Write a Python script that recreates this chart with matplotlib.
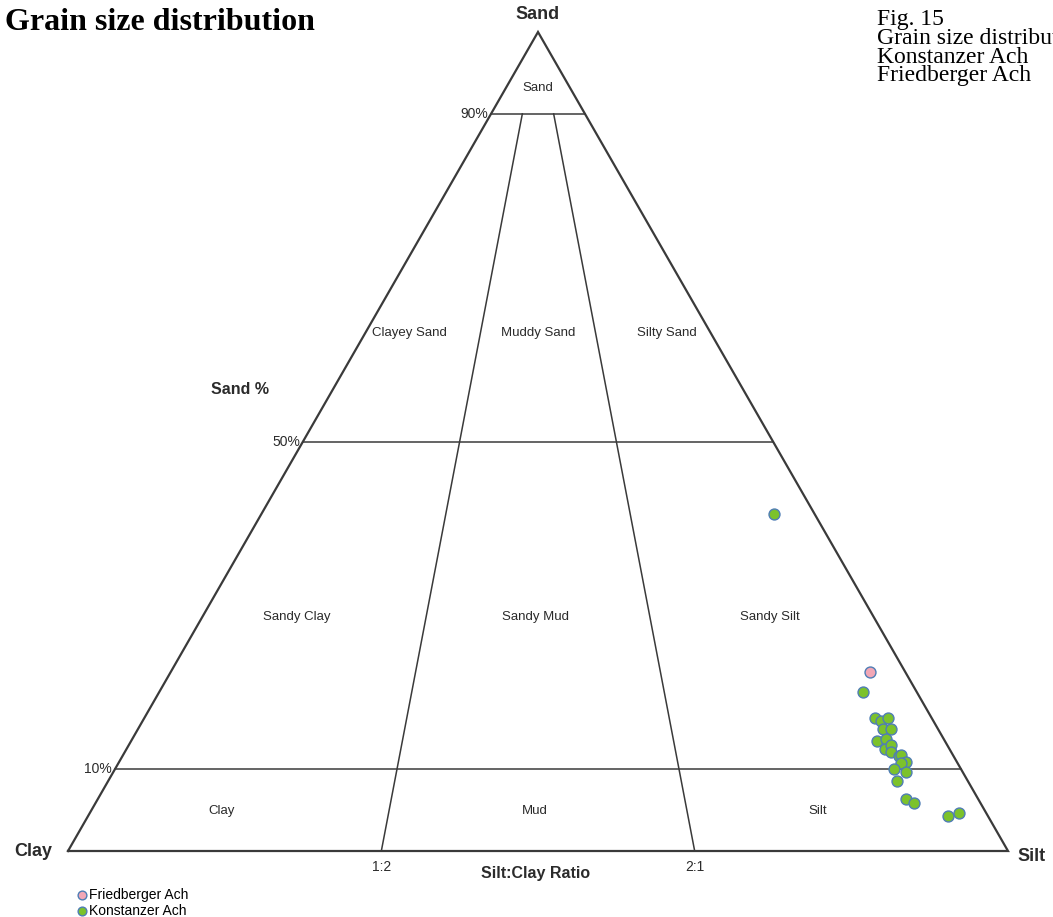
import matplotlib.pyplot as plt

# grain size fractions (%)
konstanzer_sand = [41.2, 19.4, 16.2, 15.9, 16.3, 14.9, 14.9, 13.4, 13.7, 12.5, 13.0, 12.1,
                   11.6, 11.7, 10.9, 10.8, 10.0, 9.7, 8.6, 6.3, 5.9, 4.3, 4.6]
konstanzer_silt = [54.5, 74.9, 77.7, 78.5, 79.1, 79.2, 80.1, 79.4, 80.2, 80.7, 81.1, 81.5,
                   82.6, 82.8, 83.7, 83.3, 82.9, 84.3, 83.9, 86.0, 87.1, 91.5, 92.5]
konstanzer_clay = [4.3, 5.7, 6.1, 5.6, 4.6, 5.9, 5.0, 7.2, 6.1, 6.8, 5.9, 6.4,
                   5.8, 5.5, 5.4, 6.0, 7.1, 6.0, 7.5, 7.7, 7.0, 4.2, 2.9]
friedberger_sand = [21.9]
friedberger_silt = [74.5]
friedberger_clay = [3.7]

# Folk classification boundaries
sand_levels = [0.1, 0.5, 0.9]
sand_level_labels = ["10%", "50%", "90%"]
ratio_splits = [1 / 3, 2 / 3]
ratio_labels = ["1:2", "2:1"]

# field names: (label, position along base, sand fraction)
field_labels = [
    ("Sand", 0.5, 0.932),
    ("Clayey Sand", 0.363, 0.632),
    ("Muddy Sand", 0.5, 0.632),
    ("Silty Sand", 0.637, 0.632),
    ("Sandy Clay", 0.243, 0.286),
    ("Sandy Mud", 0.497, 0.286),
    ("Sandy Silt", 0.747, 0.286),
    ("Clay", 0.163, 0.049),
    ("Mud", 0.497, 0.049),
    ("Silt", 0.798, 0.049),
]

LINE = "#3a3a3a"
TEXT = "#2b2b2b"
SANS = "Liberation Sans"
SERIF = "Liberation Serif"


def to_xy(sand, silt, clay):
    xs, ys = [], []
    for s, si, c in zip(sand, silt, clay):
        total = s + si + c
        xs.append((si + s / 2) / total)
        ys.append(s / total)
    return xs, ys


def main():
    fig = plt.figure(figsize=(10.53, 9.17), dpi=100)
    ax = fig.add_axes([68 / 1053, 66 / 917, 940 / 1053, 819 / 917])
    ax.set_xlim(0, 1)
    ax.set_ylim(0, 1)
    ax.axis("off")

    # outline
    ax.plot([0, 1, 0.5, 0], [0, 0, 1, 0], color=LINE, linewidth=1.6,
            solid_joinstyle="miter", clip_on=False)

    # sand percentage lines
    for s, lab in zip(sand_levels, sand_level_labels):
        ax.plot([s / 2, 1 - s / 2], [s, s], color=LINE, linewidth=1.1)
        ax.text(s / 2 - 0.003, s, lab, ha="right", va="center",
                fontsize=10, family=SANS, color=TEXT)

    # silt:clay ratio lines
    top = sand_levels[-1]
    for r, lab in zip(ratio_splits, ratio_labels):
        ax.plot([r, top / 2 + (1 - top) * r], [0, top], color=LINE, linewidth=1.1)
        ax.text(r, -0.02, lab, ha="center", va="center",
                fontsize=10, family=SANS, color=TEXT)

    for lab, x, y in field_labels:
        ax.text(x, y, lab, ha="center", va="center", fontsize=9.5,
                family=SANS, color=TEXT)

    # corner and axis labels
    bold = dict(family=SANS, fontweight="bold", color=TEXT, clip_on=False)
    ax.text(0.5, 1.021, "Sand", ha="center", va="center", fontsize=13, **bold)
    ax.text(-0.017, -0.001, "Clay", ha="right", va="center", fontsize=13, **bold)
    ax.text(1.01, -0.007, "Silt", ha="left", va="center", fontsize=13, **bold)
    ax.text(0.183, 0.563, "Sand %", ha="center", va="center", fontsize=11.5, **bold)
    ax.text(0.497, -0.028, "Silt:Clay Ratio", ha="center", va="center",
            fontsize=11.5, **bold)

    fx, fy = to_xy(friedberger_sand, friedberger_silt, friedberger_clay)
    kx, ky = to_xy(konstanzer_sand, konstanzer_silt, konstanzer_clay)
    ax.scatter(fx, fy, s=62, color="#f2a7b6", edgecolor="#4f7db5",
               linewidth=1.0, zorder=3, label="Friedberger Ach")
    ax.scatter(kx, ky, s=62, color="#7cc22b", edgecolor="#4f7db5",
               linewidth=1.0, zorder=3, label="Konstanzer Ach")

    fig.legend(loc="upper left", bbox_to_anchor=(76 / 1053, 1 - 888 / 917),
               frameon=False, handlelength=0.8, handletextpad=0.15,
               labelspacing=0.15, markerscale=0.8, borderpad=0, borderaxespad=0,
               prop={"family": SANS, "size": 10})

    fig.text(5 / 1053, 1 - 22 / 917, "Grain size distribution", ha="left",
             va="center", fontsize=23, fontweight="bold", family=SERIF)
    # caption runs off the right edge, as in the original page crop
    fig.text(877 / 1053, 1 - 9 / 917,
             "Fig. 15\nGrain size distribution\nKonstanzer Ach\nFriedberger Ach",
             ha="left", va="top", fontsize=17, family=SERIF, linespacing=0.86)

    fig.savefig("out.png", dpi=100)
    plt.close(fig)


if __name__ == "__main__":
    main()
